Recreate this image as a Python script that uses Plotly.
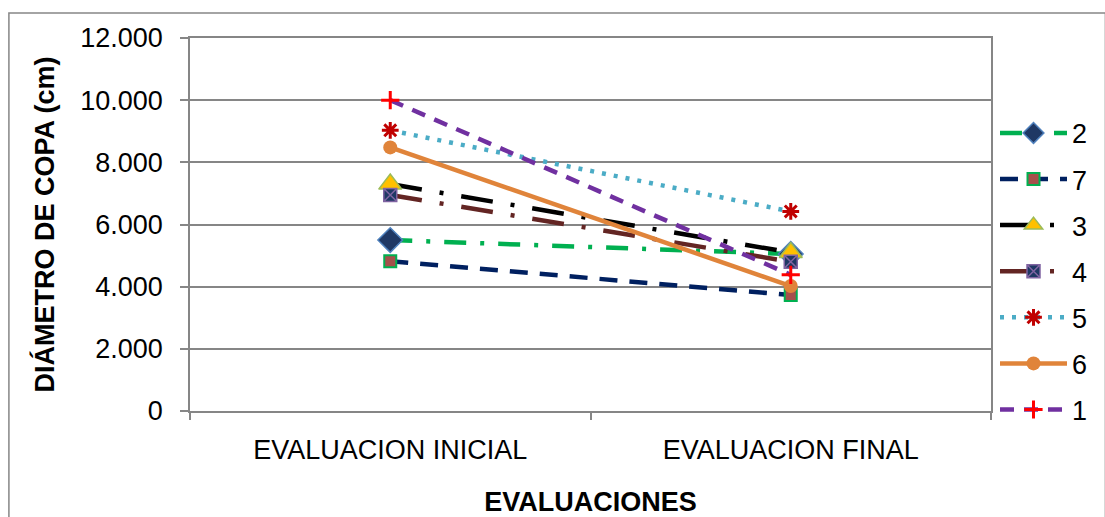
import plotly.graph_objects as go

# Evaluation stages (x categories)
evaluaciones = ["EVALUACION INICIAL", "EVALUACION FINAL"]

# Crown diameter per treatment (cm), initial and final evaluation
serie_2 = [5500, 5050]
serie_7 = [4820, 3730]
serie_3 = [7300, 5100]
serie_4 = [6950, 4800]
serie_5 = [9030, 6420]
serie_6 = [8480, 4020]
serie_1 = [10000, 4380]

nombres = ["2", "7", "3", "4", "5", "6", "1"]
valores = [serie_2, serie_7, serie_3, serie_4, serie_5, serie_6, serie_1]

estilos = [
    dict(line=dict(color="#00B050", width=4.5, dash="22px,14px,4px,14px"),
         marker=dict(symbol="diamond", size=19, color="#1F3864",
                     line=dict(color="#4F81BD", width=1.5))),
    dict(line=dict(color="#002060", width=4.5, dash="18px,12px"),
         marker=dict(symbol="square", size=12, color="#A5504B",
                     line=dict(color="#00B050", width=2))),
    dict(line=dict(color="#000000", width=4.5, dash="32px,18px,4px,18px"),
         marker=dict(symbol="triangle-up", size=20, color="#FFC000",
                     line=dict(color="#9BBB59", width=1.5))),
    dict(line=dict(color="#632523", width=4.5, dash="32px,18px,4px,18px"),
         marker=dict(symbol="square-x", size=13, color="#1F3864",
                     line=dict(color="#8064A2", width=1.5))),
    dict(line=dict(color="#4BACC6", width=4.5, dash="4px,8px"),
         marker=dict(symbol="asterisk-open", size=14, color="#C00000",
                     line=dict(color="#C00000", width=3))),
    dict(line=dict(color="#E0843A", width=4.5, dash="solid"),
         marker=dict(symbol="circle", size=14, color="#E0843A",
                     line=dict(color="#E0843A", width=0))),
    dict(line=dict(color="#7030A0", width=4.5, dash="14px,10px"),
         marker=dict(symbol="cross-thin-open", size=13, color="#FF0000",
                     line=dict(color="#FF0000", width=3))),
]

fig = go.Figure()
for nombre, ys, est in zip(nombres, valores, estilos):
    fig.add_trace(go.Scatter(
        x=evaluaciones, y=ys, name=nombre, mode="lines+markers",
        line=est["line"], marker=est["marker"], legendgroup=nombre,
    ))

FONT = "Liberation Sans, Arial, sans-serif"
GRIS = "#868686"
TAM = 27

fig.update_layout(
    width=1105, height=517,
    margin=dict(l=190, r=110, t=38, b=106),
    paper_bgcolor="white", plot_bgcolor="white",
    separators=",.",
    font=dict(family=FONT, size=TAM, color="#000000"),
    legend=dict(
        x=1.005, xanchor="left", y=0.81, yanchor="top",
        traceorder="grouped", tracegroupgap=8,
        font=dict(family=FONT, size=TAM, color="#000000"),
        itemwidth=67, bgcolor="rgba(0,0,0,0)",
    ),
    xaxis=dict(
        type="category", range=[-0.5, 1.5],
        showline=True, linecolor=GRIS, linewidth=1.5, mirror=True,
        ticks="outside", ticklen=7, tickcolor=GRIS, tickwidth=1.5,
        tickson="boundaries", showgrid=False,
        tickfont=dict(family=FONT, size=TAM),
        ticklabelstandoff=14,
        title=dict(text="<b>EVALUACIONES</b>", font=dict(family=FONT, size=TAM),
                   standoff=30),
        automargin=False,
    ),
    yaxis=dict(
        range=[0, 12000], tickvals=[0, 2000, 4000, 6000, 8000, 10000, 12000],
        tickformat=",d",
        showline=True, linecolor=GRIS, linewidth=1.5, mirror=True,
        ticks="outside", ticklen=8, tickcolor=GRIS, tickwidth=1.5,
        showgrid=True, gridcolor=GRIS, gridwidth=1.5, zeroline=False,
        tickfont=dict(family=FONT, size=TAM),
        ticklabelstandoff=12,
        title=dict(text="<b>DIÁMETRO DE COPA (cm)</b>",
                   font=dict(family=FONT, size=TAM), standoff=18),
        automargin=False,
    ),
)

# Chart-area frame around the whole figure
fig.add_shape(type="rect", xref="paper", yref="paper",
              x0=(8 - 190) / 805, x1=(1110 - 190) / 805,
              y0=(411 - 520) / 373, y1=(411 - 13) / 373,
              line=dict(color=GRIS, width=1.5), fillcolor="rgba(0,0,0,0)",
              layer="below")

fig.write_html("out.html")
